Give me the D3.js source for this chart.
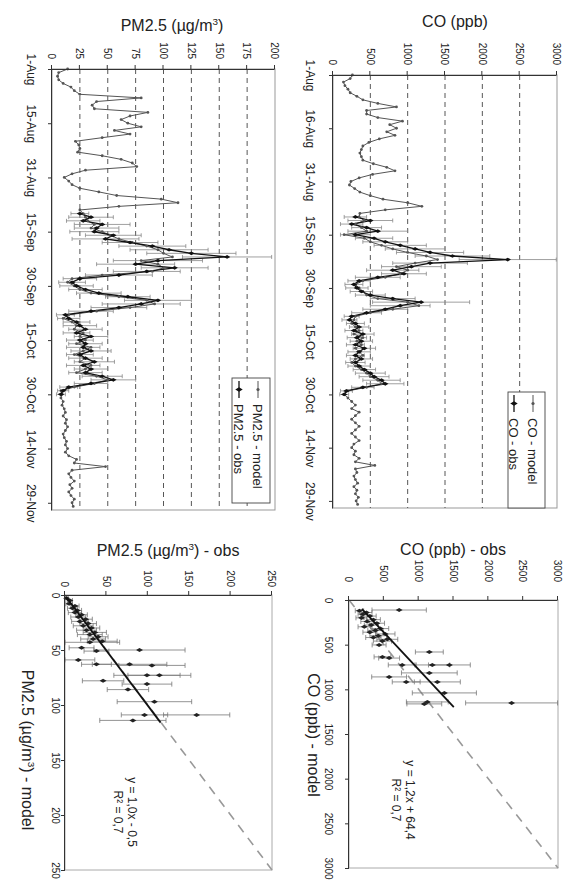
<!DOCTYPE html>
<html lang="en">
<head>
	<meta charset="UTF-8">
	<title>CO and PM2.5 - model vs obs</title>
	<script src="https://cdnjs.cloudflare.com/ajax/libs/d3/7.8.5/d3.min.js"></script>
	<style>
	body { margin: 0; background: #fff; }
	svg text { font-family: "Liberation Sans", Arial, sans-serif; fill: #222; }
	</style>
</head>
<body>
	<svg id="fig"></svg>
	<script>
// daily values, day 0 = 1-Aug ... day 121 = 30-Nov
var coModel = [260,230,140,160,200,230,320,400,600,850,
  450,450,600,930,760,850,720,830,620,480,
  400,380,360,380,400,540,720,830,530,350,
  240,220,290,360,500,670,1000,1190,700,360,
  350,420,300,380,450,150,420,500,650,800,
  1000,1250,1400,1100,850,1000,900,700,400,300,
  350,400,450,600,1000,1150,800,500,300,280,
  250,300,350,280,400,320,380,300,350,400,
  300,250,300,380,450,500,600,650,450,200,
  150,200,250,300,250,350,300,250,300,350,
  300,250,300,350,280,250,300,280,350,300,
  560,300,320,280,300,330,280,320,300,340,
  310,330]

var pmModel = [14,6,5,6,10,17,20,25,80,40,
  36,38,86,70,62,68,80,56,70,45,
  21,24,25,23,45,62,72,76,30,18,
  11,15,18,25,42,58,98,113,60,25,
  28,30,32,38,35,45,52,60,72,85,
  95,100,108,80,95,100,90,45,18,14,
  20,25,35,60,85,92,70,40,15,10,
  18,22,20,28,25,30,22,35,28,20,
  30,25,35,30,22,40,50,38,20,8,
  9,8,10,9,11,12,10,13,12,14,
  12,10,11,13,12,14,12,15,22,20,
  48,18,15,17,20,16,18,15,17,20,
  18,19]

// observations (mean and std) from day 40 (9-Sep)
var obsStart = 40
var coObs = [300,500,250,450,600,300,550,700,900,1100,
  1300,1600,2340,1300,1050,800,950,600,350,280,
  320,380,500,800,1180,900,700,450,250,220,
  300,350,280,400,320,380,300,420,350,300,
  380,300,350,420,500,550,650,700,400,180,
  150]
var coObsSd = [150,300,150,200,400,200,250,300,350,400,
  450,500,650,500,400,350,300,300,150,120,
  150,150,200,300,650,400,300,200,100,100,
  120,130,120,150,130,150,120,150,150,120,
  150,130,150,150,200,200,250,250,150,80,
  60]
var pmObs = [25,35,28,45,40,38,55,48,70,90,
  105,125,157,95,75,110,85,60,25,18,
  22,30,42,68,95,80,60,35,12,15,
  22,25,30,22,35,25,30,28,35,25,
  30,38,28,35,30,45,55,35,15,10,
  8]
var pmObsSd = [8,20,15,25,20,22,25,30,25,30,
  35,40,40,40,35,30,30,30,15,12,
  15,15,20,20,30,35,25,20,8,10,
  12,15,15,12,15,12,15,15,18,12,
  15,18,15,15,15,18,20,15,8,5,
  4]

var tickDays = [0,15,30,45,60,75,90,105,120]
var coDateLabels = ["1-Aug","16-Aug","31-Aug","15-Sep","30-Sep","15-Oct","30-Oct","14-Nov","29-Nov"]
var pmDateLabels = ["1-Aug","15-Aug","31-Aug","15-Sep","30-Sep","15-Oct","30-Oct","14-Nov","29-Nov"]
var coTicks = [0,500,1000,1500,2000,2500,3000]
var pmTicks = [0,25,50,75,100,125,150,175,200]
var pmScTicks = [0,50,100,150,200,250]

// scatter: model, obs, obs std
var coScModel = [112,120,140,160,180,200,220,240,260,280,300,320,340,360,380,400,420,440,460,503,582,637,650,727,727,727,861,816,917,917,1040,1141,1152,1163]
var coScObs = [720,150,250,200,300,180,350,260,400,320,220,450,380,300,520,420,350,550,480,432,1153,480,576,1441,1196,764,576,1153,1268,821,1369,1124,2334,1081]
var coScSd = [390,60,80,70,90,80,100,90,110,100,90,120,110,100,140,120,110,150,130,100,200,120,150,300,250,200,250,400,330,200,460,300,660,250]
var pmScModel = [3,5,8,10,12,14,16,18,20,22,24,26,28,30,32,34,36,38,40,42,43,48,51,50,59,63,63,64,78,73,73,81,86,97,109,109,114]
var pmScObs = [2,6,5,12,9,15,12,20,16,25,18,28,22,32,26,36,30,40,34,45,30,20,38,90,16,38,78,105,46,99,114,99,76,108,96,159,82]
var pmScSd = [2,3,4,5,6,5,8,7,9,8,10,10,12,10,12,14,15,12,15,18,36,15,15,55,20,18,45,40,25,40,38,30,25,45,28,40,40]

// trend lines: slope, intercept, model range
var coFit = [1.2, 64.4]
var coFitRange = [100, 1200]
var pmFit = [1.0, -0.5]
var pmFitRange = [2, 116]
var coEq = ["y = 1,2x + 64,4", "R\u00b2 = 0,7"]
var pmEq = ["y = 1,0x - 0,5", "R\u00b2 = 0,7"]

var svg = d3.select("#fig").attr("width", 572).attr("height", 884)
svg.append("rect").attr("width", 572).attr("height", 884).attr("fill", "#fff")
// the whole figure is drawn landscape and turned a quarter clockwise
var fig = svg.append("g").attr("transform", "translate(572,0) rotate(90)")

var day0 = new Date(2005, 7, 1)
function dayDate(i) { return d3.timeDay.offset(day0, i) }
var num = d3.format("d")

function styleAxis(a, fs) {
  a.attr("font-size", fs)
  a.select(".domain").attr("stroke", "#333")
  a.selectAll(".tick line").attr("stroke", "#333")
  a.selectAll(".tick text").attr("fill", "#222")
}

function label(sel, parts) {
  sel.append("tspan").text(parts[0])
  if (parts.length > 1) {
    sel.append("tspan").attr("dy", -6).attr("font-size", "0.62em").text(parts[1])
    sel.append("tspan").attr("dy", 6).text(parts[2])
  }
}

function errPath(cx, y1, y2, w) {
  return "M" + (cx - w) + "," + y1 + "h" + 2 * w + "M" + cx + "," + y1 + "V" + y2 + "M" + (cx - w) + "," + y2 + "h" + 2 * w
}

function timePanel(o) {
  var x = d3.scaleTime().domain([dayDate(0), dayDate(122)]).range(o.xr)
  var y = d3.scaleLinear().domain([0, o.ticks[o.ticks.length - 1]]).range(o.yr)
  var g = fig.append("g")
  var px = function(d) { return x(dayDate(d.i)) }
  var py = function(d) { return y(d.v) }

  g.append("rect").attr("x", o.xr[0]).attr("y", o.yr[1])
    .attr("width", o.xr[1] - o.xr[0]).attr("height", o.yr[0] - o.yr[1])
    .attr("fill", "none").attr("stroke", "#999")

  g.selectAll("line.grid").data(o.ticks.slice(1, -1)).enter().append("line")
    .attr("class", "grid")
    .attr("x1", o.xr[0]).attr("x2", o.xr[1])
    .attr("y1", y).attr("y2", y)
    .attr("stroke", "#444").attr("stroke-width", 0.9).attr("stroke-dasharray", "5,4")

  var model = o.model.map(function(v, i) { return {i: i, v: v} })
  var obs = o.obs.map(function(v, i) { return {i: i + obsStart, v: v, sd: o.sd[i]} })

  g.append("g").attr("stroke", "#888").attr("stroke-width", 0.8).attr("fill", "none")
    .selectAll("path").data(obs).enter().append("path")
    .attr("d", function(d) { return errPath(px(d), y(Math.max(0, d.v - d.sd)), y(d.v + d.sd), 2) })

  var line = d3.line().x(px).y(py)
  g.append("path").datum(model).attr("d", line)
    .attr("fill", "none").attr("stroke", "#555").attr("stroke-width", 1)
  g.append("path").datum(obs).attr("d", line)
    .attr("fill", "none").attr("stroke", "#111").attr("stroke-width", 1.3)
  g.selectAll("circle.m").data(model).enter().append("circle").attr("class", "m")
    .attr("cx", px).attr("cy", py).attr("r", 1.4).attr("fill", "#555")
  g.selectAll("path.o").data(obs).enter().append("path").attr("class", "o")
    .attr("transform", function(d) { return "translate(" + px(d) + "," + py(d) + ")" })
    .attr("d", d3.symbol(d3.symbolDiamond, 12)).attr("fill", "#111")

  var xa = g.append("g").attr("transform", "translate(0," + o.yr[0] + ")")
    .call(d3.axisBottom(x).tickValues(tickDays.map(dayDate))
      .tickFormat(function(d, i) { return o.dateLabels[i] })
      .tickSize(4).tickSizeOuter(0).tickPadding(o.datePad))
  styleAxis(xa, 12)
  var ya = g.append("g").attr("transform", "translate(" + o.xr[0] + ",0)")
    .call(d3.axisLeft(y).tickValues(o.ticks).tickFormat(num).tickSize(4).tickSizeOuter(0).tickPadding(6))
  styleAxis(ya, 10)

  label(g.append("text").attr("transform", "translate(" + o.titleAt[0] + "," + o.titleAt[1] + ") rotate(-90)")
    .attr("text-anchor", "middle").attr("font-size", 16), o.title)

  var lg = g.append("g").attr("transform", "translate(" + o.legend[0] + "," + o.legend[1] + ")")
  lg.append("rect").attr("width", o.legend[2]).attr("height", o.legend[3])
    .attr("fill", "#fff").attr("stroke", "#444").attr("stroke-width", 0.9)
  var rows = [12, 31]
  lg.append("line").attr("x1", 3).attr("x2", 20).attr("y1", rows[0]).attr("y2", rows[0])
    .attr("stroke", "#555")
  lg.append("circle").attr("cx", 11.5).attr("cy", rows[0]).attr("r", 1.6).attr("fill", "#555")
  lg.append("line").attr("x1", 3).attr("x2", 20).attr("y1", rows[1]).attr("y2", rows[1])
    .attr("stroke", "#111").attr("stroke-width", 1.3)
  lg.append("path").attr("transform", "translate(11.5," + rows[1] + ")")
    .attr("d", d3.symbol(d3.symbolDiamond, 16)).attr("fill", "#111")
  lg.selectAll("text").data(o.legendText).enter().append("text")
    .attr("x", 26).attr("y", function(d, i) { return rows[i] }).attr("dy", "0.35em")
    .attr("font-size", 13).text(function(d) { return d })
}

function scatterPanel(o) {
  var max = o.ticks[o.ticks.length - 1]
  var x = d3.scaleLinear().domain([0, max]).range(o.xr)
  var y = d3.scaleLinear().domain([0, max]).range(o.yr)
  var g = fig.append("g")

  g.append("rect").attr("x", o.xr[0]).attr("y", o.yr[1])
    .attr("width", o.xr[1] - o.xr[0]).attr("height", o.yr[0] - o.yr[1])
    .attr("fill", "none").attr("stroke", "#aaa")
  g.append("line").attr("x1", x(0)).attr("y1", y(0)).attr("x2", x(max)).attr("y2", y(max))
    .attr("stroke", "#999").attr("stroke-width", 1.6).attr("stroke-dasharray", "9,7")

  var pts = o.model.map(function(m, i) { return {m: m, v: o.obs[i], sd: o.sd[i]} })
  g.append("g").attr("stroke", "#777").attr("stroke-width", 0.8).attr("fill", "none")
    .selectAll("path").data(pts).enter().append("path")
    .attr("d", function(d) { return errPath(x(d.m), y(Math.max(0, d.v - d.sd)), y(d.v + d.sd), 2.5) })
  g.selectAll("path.p").data(pts).enter().append("path").attr("class", "p")
    .attr("transform", function(d) { return "translate(" + x(d.m) + "," + y(d.v) + ")" })
    .attr("d", d3.symbol(d3.symbolDiamond, 14)).attr("fill", "#222")

  g.append("line")
    .attr("x1", x(o.fitRange[0])).attr("y1", y(o.fit[0] * o.fitRange[0] + o.fit[1]))
    .attr("x2", x(o.fitRange[1])).attr("y2", y(o.fit[0] * o.fitRange[1] + o.fit[1]))
    .attr("stroke", "#111").attr("stroke-width", 1.8)

  var xa = g.append("g").attr("transform", "translate(0," + o.yr[0] + ")")
    .call(d3.axisBottom(x).tickValues(o.ticks).tickFormat(num).tickSize(4).tickSizeOuter(0).tickPadding(o.pads[0]))
  styleAxis(xa, 10)
  var ya = g.append("g").attr("transform", "translate(" + o.xr[0] + ",0)")
    .call(d3.axisLeft(y).tickValues(o.ticks).tickFormat(num).tickSize(4).tickSizeOuter(0).tickPadding(o.pads[1]))
  styleAxis(ya, 10)

  label(g.append("text").attr("transform", "translate(" + o.obsTitleAt[0] + "," + o.obsTitleAt[1] + ") rotate(-90)")
    .attr("text-anchor", "middle").attr("font-size", 16), o.obsTitle)
  label(g.append("text").attr("x", o.modelTitleAt[0]).attr("y", o.modelTitleAt[1])
    .attr("text-anchor", "middle").attr("font-size", 16), o.modelTitle)

  g.selectAll("text.eq").data(o.eq).enter().append("text").attr("class", "eq")
    .attr("x", o.eqAt[0]).attr("y", function(d, i) { return o.eqAt[1] + i * 14 })
    .attr("text-anchor", "middle").attr("font-size", 12).text(function(d) { return d })
}

timePanel({
  xr: [75, 508], yr: [239, 15], ticks: coTicks, dateLabels: coDateLabels, datePad: 14,
  model: coModel, obs: coObs, sd: coObsSd,
  title: ["CO (ppb)"], titleAt: [27, 117],
  legend: [392, 27, 116, 37], legendText: ["CO - model", "CO - obs"]
})
timePanel({
  xr: [69, 510], yr: [520, 297], ticks: pmTicks, dateLabels: pmDateLabels, datePad: 12,
  model: pmModel, obs: pmObs, sd: pmObsSd,
  title: ["PM2.5 (\u00b5g/m", "3", ")"], titleAt: [31, 400],
  legend: [378, 302, 125, 38], legendText: ["PM2.5 - model", "PM2.5 - obs"]
})
scatterPanel({
  xr: [600, 868], yr: [223, 14], ticks: coTicks, pads: [13, 14],
  model: coScModel, obs: coScObs, sd: coScSd, fit: coFit, fitRange: coFitRange,
  obsTitle: ["CO (ppb) - obs"], obsTitleAt: [555, 119],
  modelTitle: ["CO (ppb) - model"], modelTitleAt: [735, 264],
  eq: coEq, eqAt: [800, 166]
})
scatterPanel({
  xr: [595, 870], yr: [507, 300], ticks: pmScTicks, pads: [2, 4],
  model: pmScModel, obs: pmScObs, sd: pmScSd, fit: pmFit, fitRange: pmFitRange,
  obsTitle: ["PM2.5 (\u00b5g/m", "3", ") - obs"], obsTitleAt: [556, 404],
  modelTitle: ["PM2.5 (\u00b5g/m", "3", ") - model"], modelTitleAt: [750, 550],
  eq: pmEq, eqAt: [812, 444]
})
	</script>
</body>
</html>
